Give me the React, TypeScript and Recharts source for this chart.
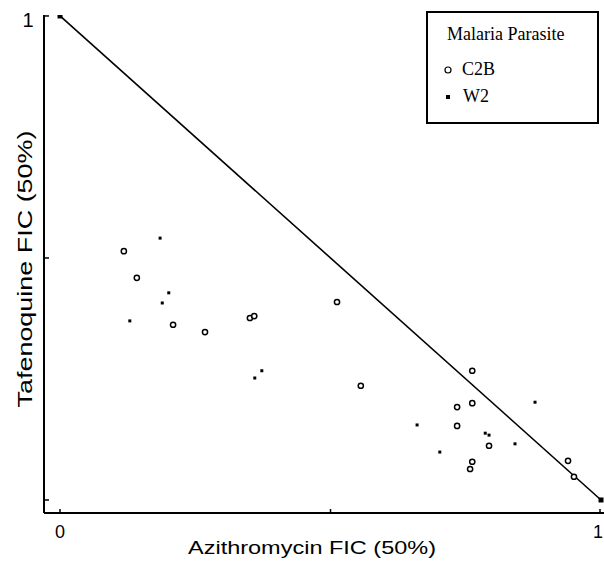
import React from 'react';
import { ScatterChart, Scatter, XAxis, YAxis, Label } from 'recharts';

// C2B (open circles)
const c2bX = [0.118, 0.142, 0.209, 0.268, 0.351, 0.359, 0.512, 0.556, 0.762, 0.762, 0.734, 0.734, 0.793, 0.762, 0.758, 0.939, 0.950];
const c2bY = [0.514, 0.459, 0.362, 0.347, 0.376, 0.380, 0.409, 0.236, 0.267, 0.200, 0.192, 0.153, 0.112, 0.079, 0.064, 0.081, 0.048];

// W2 (small filled squares)
const w2X = [0.185, 0.129, 0.201, 0.189, 0.360, 0.373, 0.660, 0.702, 0.786, 0.793, 0.841, 0.878];
const w2Y = [0.541, 0.370, 0.428, 0.407, 0.252, 0.267, 0.155, 0.099, 0.138, 0.134, 0.116, 0.202];

// additivity line endpoints
const lineX = [0, 1];
const lineY = [1, 0];

const xTicks = [0, 0.5, 1];
const yTicks = [0, 0.5, 1];
const xTickLabels = ['0', '', '1'];
const yTickLabels = ['', '', '1'];

const toPts = (xs: number[], ys: number[]) => xs.map((x, i) => ({ x, y: ys[i] }));
const c2bData = toPts(c2bX, c2bY);
const w2Data = toPts(w2X, w2Y);
const lineData = toPts(lineX, lineY);

const font = '"Liberation Sans", Arial, sans-serif';
const serif = '"Liberation Serif", "Times New Roman", serif';

const OpenCircle = (p: any) => (
  <circle cx={p.cx} cy={p.cy} r={2.6} fill="#fff" stroke="#000" strokeWidth={1.5} />
);
const SmallSquare = (p: any) => (
  <rect x={p.cx - 1.5} y={p.cy - 1.5} width={3} height={3} fill="#000" />
);
const EndSquare = (p: any) => (
  <rect x={p.cx - 2.5} y={p.cy - 2.5} width={5} height={5} fill="#000" />
);

const XTick = (p: any) => {
  const i = xTicks.indexOf(p.payload.value);
  const last = i === xTicks.length - 1;
  return (
    <g>
      <line x1={p.x} x2={p.x} y1={p.y} y2={p.y - 4} stroke="#000" strokeWidth={1.5} />
      <text
        x={last ? 603 : p.x}
        y={p.y + 25}
        textAnchor={last ? 'end' : 'middle'}
        fontSize={18}
        fontFamily={font}
        fill="#000"
      >
        {xTickLabels[i]}
      </text>
    </g>
  );
};

const YTick = (p: any) => {
  const i = yTicks.indexOf(p.payload.value);
  return (
    <g>
      <line x1={p.x} x2={p.x + 5} y1={p.y} y2={p.y} stroke="#000" strokeWidth={1.5} />
      <text x={p.x - 16} y={p.y + 11} textAnchor="middle" fontSize={20} fontFamily={font} fill="#000">
        {yTickLabels[i]}
      </text>
    </g>
  );
};

const XTitle = (p: any) => {
  const vb = p.viewBox;
  return (
    <text
      x={vb.x + vb.width / 2 - 12}
      y={vb.y + 41}
      textAnchor="middle"
      fontSize={18.5}
      fontFamily={font}
      fill="#000"
      textLength={248}
      lengthAdjust="spacingAndGlyphs"
    >
      Azithromycin FIC (50%)
    </text>
  );
};

const YTitle = (p: any) => {
  const vb = p.viewBox;
  const x = 32;
  const y = vb.y + vb.height / 2 + 5;
  return (
    <text
      x={x}
      y={y}
      transform={`rotate(-90, ${x}, ${y})`}
      textAnchor="middle"
      fontSize={21}
      fontFamily={font}
      fill="#000"
      textLength={277}
      lengthAdjust="spacingAndGlyphs"
    >
      Tafenoquine FIC (50%)
    </text>
  );
};

export default function App() {
  return (
    <div style={{ position: 'absolute', left: 0, top: 0, width: 604, height: 561, background: '#fff' }}>
      <ScatterChart width={604} height={561} margin={{ top: 15, right: 0, bottom: 0, left: 0 }}>
        <XAxis
          type="number"
          dataKey="x"
          domain={[-0.0296, 1.0055]}
          ticks={xTicks}
          allowDataOverflow
          height={48}
          tickSize={0}
          tickMargin={0}
          tickLine={false}
          tick={<XTick />}
          axisLine={{ stroke: '#000', strokeWidth: 2 }}
        >
          <Label content={<XTitle />} />
        </XAxis>
        <YAxis
          type="number"
          dataKey="y"
          domain={[-0.0269, 1.002]}
          ticks={yTicks}
          allowDataOverflow
          width={44}
          tickSize={0}
          tickMargin={0}
          tickLine={false}
          tick={<YTick />}
          axisLine={{ stroke: '#000', strokeWidth: 2 }}
        >
          <Label content={<YTitle />} />
        </YAxis>
        <Scatter
          name="line"
          data={lineData}
          line={{ stroke: '#000', strokeWidth: 1.6 }}
          shape={<EndSquare />}
          isAnimationActive={false}
        />
        <Scatter name="C2B" data={c2bData} shape={<OpenCircle />} isAnimationActive={false} />
        <Scatter name="W2" data={w2Data} shape={<SmallSquare />} isAnimationActive={false} />
      </ScatterChart>
      <svg style={{ position: 'absolute', left: 420, top: 0 }} width={184} height={130}>
        <rect x={7} y={12} width={171} height={111} fill="#fff" stroke="#000" strokeWidth={2} />
        <text x={27} y={40} fontFamily={serif} fontSize={18} fill="#000">
          Malaria Parasite
        </text>
        <circle cx={28} cy={70} r={3} fill="#fff" stroke="#000" strokeWidth={1.2} />
        <text x={42} y={75} fontFamily={serif} fontSize={18} fill="#000">
          C2B
        </text>
        <rect x={26} y={95} width={4} height={4} fill="#000" />
        <text x={43} y={102} fontFamily={serif} fontSize={18} fill="#000">
          W2
        </text>
      </svg>
    </div>
  );
}
